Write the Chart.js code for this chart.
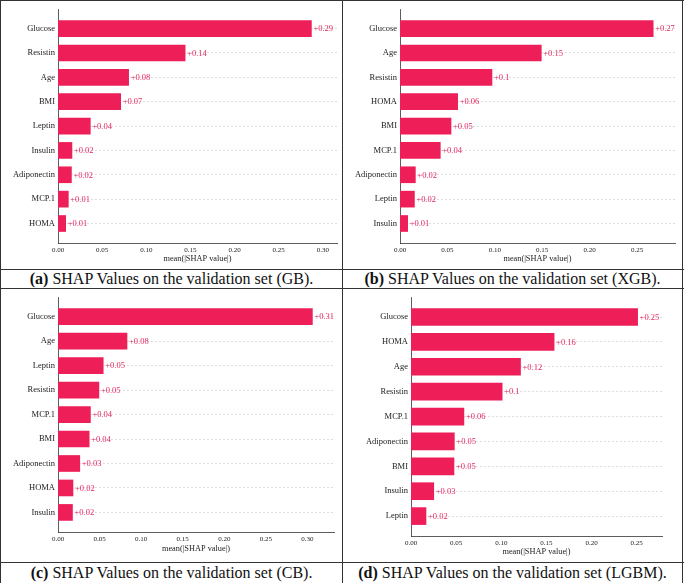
<!DOCTYPE html>
<html>
<head>
<meta charset="utf-8">
<script src="https://cdn.jsdelivr.net/npm/chart.js@4/dist/chart.umd.min.js"></script>
<style>
  body { margin: 0; background: #fff; }
  #wrap { position: relative; width: 685px; height: 583px; overflow: hidden; }
  canvas { position: absolute; }
  .line { position: absolute; background: #333; }
  .cap { position: absolute; text-align: center; font-family: "Liberation Serif", "DejaVu Serif", serif;
         font-size: 16px; color: #111; white-space: nowrap; }
  .cap b { font-weight: bold; }
</style>
</head>
<body>
<div id="wrap">
  <canvas id="gb" style="left:1px;top:1px" width="340" height="267"></canvas>
  <canvas id="xgb" style="left:343px;top:1px" width="339" height="267"></canvas>
  <canvas id="cb" style="left:1px;top:289px" width="340" height="273"></canvas>
  <canvas id="lgbm" style="left:343px;top:289px" width="339" height="273"></canvas>

  <div class="line" style="left:0;top:0;width:684px;height:1px"></div>
  <div class="line" style="left:0;top:0;width:1px;height:583px"></div>
  <div class="line" style="left:682px;top:0;width:1px;height:583px"></div>
  <div class="line" style="left:342px;top:0;width:1px;height:583px"></div>
  <div class="line" style="left:0;top:269px;width:684px;height:1px"></div>
  <div class="line" style="left:0;top:288px;width:684px;height:1px"></div>
  <div class="line" style="left:0;top:562px;width:684px;height:1px"></div>

  <div class="cap" style="left:1px;top:269px;width:341px;height:19px;line-height:19px"><b>(a)</b> SHAP Values on the validation set (GB).</div>
  <div class="cap" style="left:343px;top:269px;width:339px;height:19px;line-height:19px"><b>(b)</b> SHAP Values on the validation set (XGB).</div>
  <div class="cap" style="left:1px;top:563px;width:341px;height:20px;line-height:20px"><b>(c)</b> SHAP Values on the validation set (CB).</div>
  <div class="cap" style="left:343px;top:563px;width:339px;height:20px;line-height:20px"><b>(d)</b> SHAP Values on the validation set (LGBM).</div>
</div>
<script>
// mean(|SHAP value|) per feature, top to bottom as plotted
const gbFeatures = ["Glucose", "Resistin", "Age", "BMI", "Leptin", "Insulin", "Adiponectin", "MCP.1", "HOMA"];
const gbValues = [0.287, 0.144, 0.080, 0.071, 0.0366, 0.0158, 0.0152, 0.0117, 0.0087];

const xgbFeatures = ["Glucose", "Age", "Resistin", "HOMA", "BMI", "MCP.1", "Adiponectin", "Leptin", "Insulin"];
const xgbValues = [0.267, 0.149, 0.097, 0.0608, 0.0538, 0.0425, 0.0162, 0.0152, 0.0081];

const cbFeatures = ["Glucose", "Age", "Leptin", "Resistin", "MCP.1", "BMI", "Adiponectin", "HOMA", "Insulin"];
const cbValues = [0.306, 0.083, 0.0544, 0.0492, 0.039, 0.0375, 0.0262, 0.018, 0.0174];

const lgbmFeatures = ["Glucose", "HOMA", "Age", "Resistin", "MCP.1", "Adiponectin", "BMI", "Insulin", "Leptin"];
const lgbmValues = [0.251, 0.1585, 0.1213, 0.101, 0.0586, 0.048, 0.0476, 0.0252, 0.0166];

const SERIF = '"Liberation Serif", "DejaVu Serif", serif';
const RED = "rgb(238, 30, 88)";
const LABEL_RED = "rgb(228, 40, 96)";

// "+0.29" text at the end of each bar
const valueLabels = {
    id: "valueLabels",
    afterDatasetsDraw(chart) {
        const ctx = chart.ctx;
        const meta = chart.getDatasetMeta(0);
        const data = chart.data.datasets[0].data;
        ctx.save();
        ctx.font = "8.5px " + SERIF;
        ctx.fillStyle = LABEL_RED;
        ctx.textAlign = "left";
        ctx.textBaseline = "middle";
        meta.data.forEach((bar, i) => {
            const txt = "+" + Number(data[i].x.toFixed(2));
            ctx.fillText(txt, bar.x + 2, bar.y + 0.5);
        });
        ctx.restore();
    },
};

function makeChart(id, features, values, o) {
    new Chart(document.getElementById(id), {
        type: "bar",
        data: {
            datasets: [{
                data: values.map((v, i) => ({ x: v, y: i })),
                backgroundColor: RED,
                borderWidth: 0,
                barThickness: o.bar,
            }],
        },
        options: {
            indexAxis: "y",
            responsive: false,
            animation: false,
            layout: { padding: { top: o.top, right: o.right, left: 0, bottom: 0 } },
            plugins: { legend: { display: false }, tooltip: { enabled: false } },
            scales: {
                x: {
                    type: "linear",
                    min: 0,
                    max: o.xMax,
                    afterFit: (s) => { s.height = o.xh; },
                    ticks: {
                        stepSize: 0.05,
                        includeBounds: false,
                        maxRotation: 0,
                        padding: 3,
                        color: "#222",
                        font: { family: SERIF, size: 7 },
                        callback: (v) => v.toFixed(2),
                    },
                    grid: { display: false, drawTicks: false },
                    border: { color: "#333", width: 0.8 },
                    title: {
                        display: true,
                        text: "mean(|SHAP value|)",
                        color: "#222",
                        font: { family: SERIF, size: 8.3 },
                        padding: { top: 0, bottom: o.tb },
                    },
                },
                y: {
                    type: "linear",
                    reverse: true,
                    offset: false,
                    min: -0.8,
                    max: 8.8,
                    afterFit: (s) => { s.width = o.yw; },
                    ticks: {
                        stepSize: 1,
                        includeBounds: false,
                        autoSkip: false,
                        padding: 3,
                        color: "#222",
                        font: { family: SERIF, size: 8.5 },
                        callback: (v) => features[v] ?? "",
                    },
                    grid: { offset: false, color: "#c4c4c4", lineWidth: 0.6, drawTicks: false },
                    border: { color: "#333", width: 0.8, dash: [2, 2] },
                },
            },
        },
        plugins: [valueLabels],
    });
}

makeChart("gb", gbFeatures, gbValues, { xMax: 0.316, top: 4, right: 4, yw: 57, xh: 25, tb: 4, bar: 16 });
makeChart("xgb", xgbFeatures, xgbValues, { xMax: 0.29, top: 4, right: 7, yw: 57, xh: 25, tb: 4, bar: 16 });
makeChart("cb", cbFeatures, cbValues, { xMax: 0.332, top: 4, right: 7, yw: 57, xh: 30, tb: 8, bar: 16 });
makeChart("lgbm", lgbmFeatures, lgbmValues, { xMax: 0.278, top: 4, right: 20, yw: 68, xh: 26, tb: 5, bar: 17 });
</script>
</body>
</html>
